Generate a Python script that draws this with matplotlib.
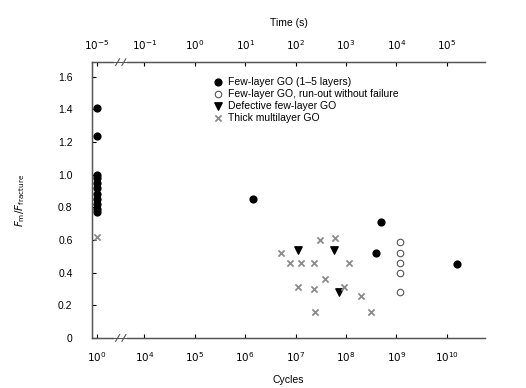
import numpy as np
import matplotlib.pyplot as plt
from matplotlib.ticker import NullLocator

plt.rcParams['font.family'] = ['Liberation Sans', 'DejaVu Sans']
plt.rcParams['font.size'] = 7.5

# data (cycles, F_m / F_fracture)
static_cycles = [1, 1, 1, 1, 1, 1, 1, 1, 1, 1, 1]
static_ratio = [1.41, 1.24, 1.00, 0.98, 0.95, 0.92, 0.88, 0.85, 0.82, 0.79, 0.77]
static_thick_cycles = [1]
static_thick_ratio = [0.62]

few_cycles = [1.4e6, 5.0e8, 4.0e8, 1.6e10]
few_ratio = [0.85, 0.71, 0.52, 0.45]

runout_cycles = [1.2e9, 1.2e9, 1.2e9, 1.2e9, 1.2e9]
runout_ratio = [0.59, 0.52, 0.46, 0.40, 0.28]

defect_cycles = [1.1e7, 5.8e7, 7.2e7]
defect_ratio = [0.54, 0.54, 0.28]

thick_cycles = [3.0e7, 6.0e7, 5.2e6, 7.9e6, 1.3e7, 2.3e7, 1.15e8,
                1.1e7, 2.3e7, 3.8e7, 9.1e7, 2.0e8, 2.4e7, 3.2e8]
thick_ratio = [0.60, 0.61, 0.52, 0.46, 0.46, 0.46, 0.46,
               0.31, 0.30, 0.36, 0.31, 0.26, 0.16, 0.16]

cycle_ticks = [1, 1e4, 1e5, 1e6, 1e7, 1e8, 1e9, 1e10]
cycle_labels = ['$10^{0}$', '$10^{4}$', '$10^{5}$', '$10^{6}$',
                '$10^{7}$', '$10^{8}$', '$10^{9}$', '$10^{10}$']
time_labels = ['$10^{-5}$', '$10^{-1}$', '$10^{0}$', '$10^{1}$',
               '$10^{2}$', '$10^{3}$', '$10^{4}$', '$10^{5}$']
y_ticks = [0, 0.2, 0.4, 0.6, 0.8, 1.0, 1.2, 1.4, 1.6]
y_labels = ['0', '0.2', '0.4', '0.6', '0.8', '1.0', '1.2', '1.4', '1.6']

# broken log axis: squeeze the decades between 10^0 and 10^4
lo, hi, squeezed = 0.45, 3.55, 0.04
gap = hi - lo - squeezed


def fwd(x):
    u = np.log10(np.clip(np.asarray(x, dtype=float), 1e-300, None))
    mid = lo + (u - lo) * squeezed / (hi - lo)
    return np.where(u < lo, u, np.where(u > hi, u - gap, mid))


def inv(p):
    p = np.asarray(p, dtype=float)
    mid = lo + (p - lo) * (hi - lo) / squeezed
    u = np.where(p < lo, p, np.where(p > lo + squeezed, p + gap, mid))
    return 10.0 ** u


fig = plt.figure(figsize=(5.26, 3.88), dpi=100)
ax = fig.add_axes([0.175, 0.129, 0.747, 0.711])
ax.set_xscale('function', functions=(fwd, inv))
xlim = (10 ** -0.1, 10 ** 10.76)
ax.set_xlim(xlim)
ax.set_ylim(0, 1.69)

ax.scatter(static_cycles, static_ratio, s=24, c='black', marker='o', zorder=3)
ax.scatter(static_thick_cycles, static_thick_ratio, s=20, c='#8c8c8c', marker='x',
           linewidths=1.3, zorder=3)
ax.scatter(few_cycles, few_ratio, s=24, c='black', marker='o', zorder=3,
           label='Few-layer GO (1–5 layers)')
ax.scatter(runout_cycles, runout_ratio, s=22, facecolors='white', edgecolors='#555555',
           marker='o', linewidths=0.8, zorder=3,
           label='Few-layer GO, run-out without failure')
ax.scatter(defect_cycles, defect_ratio, s=28, c='black', marker='v', zorder=3,
           label='Defective few-layer GO')
ax.scatter(thick_cycles, thick_ratio, s=20, c='#8c8c8c', marker='x', linewidths=1.3,
           zorder=3, label='Thick multilayer GO')

ax.set_xticks(cycle_ticks)
ax.set_xticklabels(cycle_labels)
ax.xaxis.set_minor_locator(NullLocator())
ax.set_yticks(y_ticks)
ax.set_yticklabels(y_labels)
ax.tick_params(direction='in', length=3, width=0.8)
ax.tick_params(axis='x', pad=9)
ax.tick_params(axis='y', pad=14)
ax.set_xlabel('Cycles', labelpad=8)
ax.set_ylabel('$F_\\mathrm{m}/F_\\mathrm{fracture}$', labelpad=22)
ax.spines['right'].set_visible(False)
for s in ['left', 'bottom', 'top']:
    ax.spines[s].set_color('#555555')
    ax.spines[s].set_linewidth(1.0)

top = ax.twiny()
top.set_xscale('function', functions=(fwd, inv))
top.set_xlim(xlim)
top.set_xticks(cycle_ticks)
top.set_xticklabels(time_labels)
top.xaxis.set_minor_locator(NullLocator())
top.tick_params(direction='in', length=3, width=0.8, pad=7)
top.set_xlabel('Time (s)', labelpad=9)
top.spines['right'].set_visible(False)
for s in ['left', 'bottom', 'top']:
    top.spines[s].set_color('#555555')

# axis break marks
bx = (lo + squeezed / 2 + 0.1) / 7.8
for yb in (0, 1):
    ax.plot([bx - 0.012, bx + 0.012], [yb, yb], transform=ax.transAxes,
            color='white', lw=3, clip_on=False, zorder=5)
    for dx in (-0.008, 0.008):
        ax.plot([bx + dx - 0.005, bx + dx + 0.005], [yb - 0.012, yb + 0.012],
                transform=ax.transAxes, color='#555555', lw=0.8, clip_on=False, zorder=6)

ax.legend(loc='upper left', bbox_to_anchor=(0.28, 0.985), frameon=False,
          handletextpad=0.5, labelspacing=0.2, borderaxespad=0.6,
          fontsize=7.5, handlelength=1.0)

plt.savefig('out.png', dpi=100)
